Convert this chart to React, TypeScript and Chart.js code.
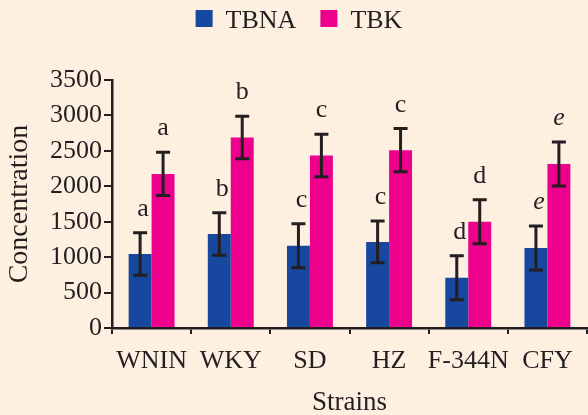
import React, { useEffect, useRef } from "react";
import { Chart, registerables } from "chart.js";

Chart.register(...registerables);

const categories = ["WNIN", "WKY", "SD", "HZ", "F-344N", "CFY"];
const tbnaValues = [1045, 1325, 1160, 1215, 710, 1130];
const tbnaErrors = [300, 300, 310, 295, 310, 310];
const tbkValues = [2175, 2690, 2435, 2510, 1500, 2315];
const tbkErrors = [305, 300, 300, 305, 310, 310];
const tbnaLetters = ["a", "b", "c", "c", "d", "e"];
const tbkLetters = ["a", "b", "c", "c", "d", "e"];
const italicLetters = ["e"];
const yTicks = [0, 500, 1000, 1500, 2000, 2500, 3000, 3500];

const FONT = "'Liberation Serif', 'Times New Roman', serif";
const INK = "#231f20";
const BLUE = "#17479e";
const PINK = "#ec008c";
const BG = "#fdf0e1";

Chart.defaults.font.family = FONT;

const errorPlugin = {
  id: "errorBarsLetters",
  afterDatasetsDraw(chart: any) {
    const ctx = chart.ctx;
    const y = chart.scales.y;
    chart.data.datasets.forEach((ds: any, di: number) => {
      const meta = chart.getDatasetMeta(di);
      meta.data.forEach((el: any, i: number) => {
        const v = ds.data[i];
        const e = ds.errors[i];
        const x = el.x;
        const yt = y.getPixelForValue(v + e);
        const yb = y.getPixelForValue(v - e);
        ctx.save();
        ctx.strokeStyle = INK;
        ctx.lineWidth = 3;
        ctx.beginPath();
        ctx.moveTo(x, yt);
        ctx.lineTo(x, yb);
        ctx.moveTo(x - 7, yt);
        ctx.lineTo(x + 7, yt);
        ctx.moveTo(x - 7, yb);
        ctx.lineTo(x + 7, yb);
        ctx.stroke();
        const letter = ds.letters[i];
        const italic = italicLetters.includes(letter);
        ctx.fillStyle = INK;
        ctx.font = (italic ? "italic " : "") + "26px " + FONT;
        ctx.textAlign = "center";
        ctx.textBaseline = "alphabetic";
        ctx.fillText(letter, x + (di === 0 ? 3 : 0), yt - 17);
        ctx.restore();
      });
    });
  },
};

const legendPlugin = {
  id: "topLegend",
  afterDraw(chart: any) {
    const ctx = chart.ctx;
    ctx.save();
    ctx.font = "26px " + FONT;
    const box = 17;
    const gapText = 13;
    const gapItem = 24;
    const items = chart.data.datasets.map((ds: any) => ({
      label: ds.label,
      color: ds.backgroundColor,
      w: box + gapText + ctx.measureText(ds.label).width,
    }));
    const total = items.reduce((s: number, it: any) => s + it.w, 0) + gapItem * (items.length - 1);
    let x = chart.width / 2 + 5 - total / 2;
    const yMid = 18.5;
    items.forEach((it: any) => {
      ctx.fillStyle = it.color;
      ctx.fillRect(x, yMid - box / 2, box, box);
      ctx.fillStyle = INK;
      ctx.textAlign = "left";
      ctx.textBaseline = "alphabetic";
      ctx.fillText(it.label, x + box + gapText, yMid + 9);
      x += it.w + gapItem;
    });
    ctx.restore();
  },
};

export default function App() {
  const ref = useRef<HTMLCanvasElement>(null);
  useEffect(() => {
    if (!ref.current) return;
    const chart = new Chart(ref.current, {
      type: "bar",
      data: {
        labels: categories,
        datasets: [
          {
            label: "TBNA",
            data: tbnaValues,
            backgroundColor: BLUE,
            errors: tbnaErrors,
            letters: tbnaLetters,
            categoryPercentage: 0.58,
            barPercentage: 1,
          } as any,
          {
            label: "TBK",
            data: tbkValues,
            backgroundColor: PINK,
            errors: tbkErrors,
            letters: tbkLetters,
            categoryPercentage: 0.58,
            barPercentage: 1,
          } as any,
        ],
      },
      options: {
        responsive: false,
        animation: false,
        devicePixelRatio: 1,
        layout: { padding: { top: 80, right: 1, left: 0, bottom: 0 } },
        plugins: {
          tooltip: { enabled: false },
          legend: { display: false },
        },
        scales: {
          x: {
            grid: {
              display: true,
              drawOnChartArea: false,
              drawTicks: true,
              tickLength: 6,
              color: INK,
              lineWidth: 2,
              offset: true,
            },
            border: { display: true, color: INK, width: 2.5 },
            ticks: {
              color: INK,
              font: { family: FONT, size: 26 },
              autoSkip: false,
              maxRotation: 0,
              minRotation: 0,
              padding: 12,
            },
            title: {
              display: true,
              text: "Strains",
              color: INK,
              font: { family: FONT, size: 27, lineHeight: 1 },
              padding: { top: 0, bottom: -1 },
            },
            afterFit(scale: any) {
              scale.height = 87;
            },
          },
          y: {
            min: 0,
            max: 3500,
            afterBuildTicks(scale: any) {
              scale.ticks = yTicks.map((v) => ({ value: v }));
            },
            grid: {
              display: true,
              drawOnChartArea: false,
              tickLength: 8,
              color: INK,
              lineWidth: 2,
            },
            border: { display: true, color: INK, width: 2.5 },
            ticks: {
              color: INK,
              font: { family: FONT, size: 26 },
              padding: 2,
              callback: (v: any) => String(v),
            },
            title: {
              display: true,
              text: "Concentration",
              color: INK,
              font: { family: FONT, size: 28 },
              padding: { top: 3, bottom: 0 },
            },
            afterFit(scale: any) {
              scale.width = 112;
            },
          },
        },
      },
      plugins: [errorPlugin, legendPlugin],
    } as any);
    return () => chart.destroy();
  }, []);
  return (
    <div style={{ position: "fixed", left: 0, top: 0, width: 588, height: 415, background: BG }}>
      <canvas ref={ref} width={588} height={415} style={{ display: "block" }} />
    </div>
  );
}
